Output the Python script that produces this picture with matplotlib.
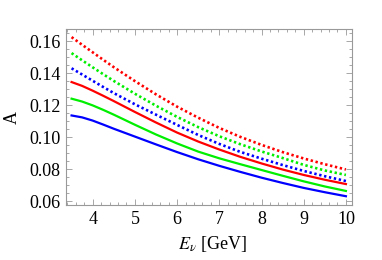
import matplotlib
matplotlib.use("Agg")
import matplotlib.pyplot as plt
from matplotlib.ticker import MultipleLocator, FormatStrFormatter

plt.rcParams['font.family'] = ['Liberation Serif', 'DejaVu Serif']
plt.rcParams['mathtext.fontset'] = 'stix'

# energies (GeV)
E = [3.5, 3.75, 4.0, 4.25, 4.5, 5.0, 5.5, 6.0, 6.5, 7.0, 7.5, 8.0, 8.5, 9.0, 9.5, 10.0]

# solid curves
blue_solid = [0.1135, 0.1123, 0.1103, 0.1078, 0.1052, 0.1003, 0.0954, 0.0906, 0.0861,
              0.0820, 0.0782, 0.0746, 0.0713, 0.0682, 0.0655, 0.0630]
green_solid = [0.1240, 0.1222, 0.1198, 0.1170, 0.1140, 0.1077, 0.1016, 0.0960, 0.0909,
               0.0867, 0.0830, 0.0794, 0.0758, 0.0723, 0.0691, 0.0663]
red_solid = [0.1344, 0.1320, 0.1290, 0.1258, 0.1225, 0.1157, 0.1091, 0.1028, 0.0972,
             0.0922, 0.0876, 0.0835, 0.0797, 0.0763, 0.0733, 0.0706]

# dotted curves
blue_dot = [0.1430, 0.1391, 0.1352, 0.1313, 0.1275, 0.1205, 0.1140, 0.1076, 0.1013,
            0.0957, 0.0907, 0.0865, 0.0825, 0.0788, 0.0755, 0.0725]
green_dot = [0.1525, 0.1480, 0.1436, 0.1393, 0.1351, 0.1271, 0.1196, 0.1126, 0.1062,
             0.1005, 0.0955, 0.0910, 0.0869, 0.0826, 0.0791, 0.0763]
red_dot = [0.1625, 0.1577, 0.1530, 0.1483, 0.1437, 0.1350, 0.1267, 0.1190, 0.1121,
           0.1057, 0.1001, 0.0951, 0.0906, 0.0866, 0.0830, 0.0797]

fig = plt.figure(figsize=(3.82, 2.6), dpi=100)
ax = fig.add_axes([0.173, 0.2115, 0.748, 0.6765])

lw = 1.6
dot = (0, (0.9, 1.0))
ax.plot(E, blue_solid, color='#0000ff', lw=lw)
ax.plot(E, green_solid, color='#00ee00', lw=lw)
ax.plot(E, red_solid, color='#ff0000', lw=lw)
ax.plot(E, blue_dot, color='#0000ff', lw=1.9, ls=dot, dash_capstyle='butt')
ax.plot(E, green_dot, color='#00ee00', lw=1.9, ls=dot, dash_capstyle='butt')
ax.plot(E, red_dot, color='#ff0000', lw=1.9, ls=dot, dash_capstyle='butt')

ax.set_xlim(3.37, 10.14)
ax.set_ylim(0.0575, 0.1675)
ax.xaxis.set_major_locator(MultipleLocator(1))
ax.xaxis.set_minor_locator(MultipleLocator(0.2))
ax.yaxis.set_major_locator(MultipleLocator(0.02))
ax.yaxis.set_minor_locator(MultipleLocator(0.005))
ax.yaxis.set_major_formatter(FormatStrFormatter('%.2f'))

for s in ax.spines.values():
    s.set_color('#999999')
    s.set_linewidth(0.8)
ax.tick_params(which='both', direction='in', top=True, right=True,
               color='#999999', labelsize=13, width=0.6)
ax.tick_params(which='major', length=4, pad=4)
ax.tick_params(which='minor', length=2)

fig.text(212 / 382, 1 - 244 / 260, r'$E_\nu$ [GeV]', fontsize=13,
         ha='center', va='center')
fig.text(12 / 382, 1 - 117 / 260, 'A', fontsize=13, rotation=90,
         ha='center', va='center')

fig.savefig('out.png', dpi=100)
